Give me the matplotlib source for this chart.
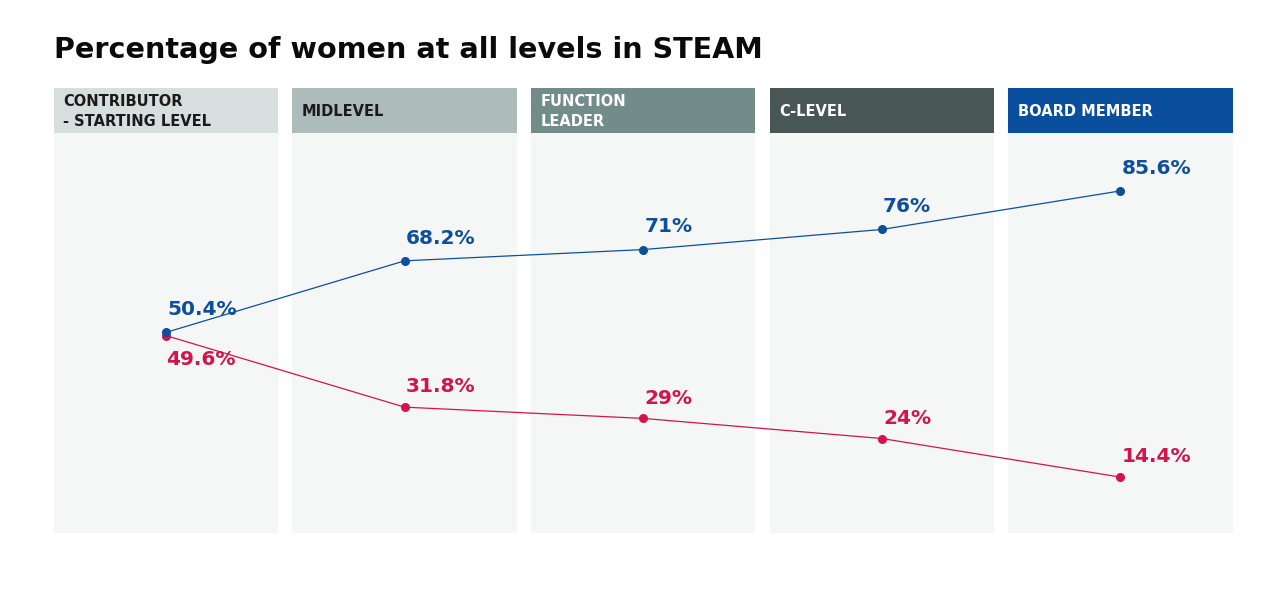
import matplotlib as mpl
mpl.use('Agg')
import matplotlib.pyplot as plt
import numpy as np

levels = ['CONTRIBUTOR\n- STARTING LEVEL', 'MIDLEVEL', 'FUNCTION\nLEADER', 'C-LEVEL', 'BOARD MEMBER']
women = [50.4, 68.2, 71, 76, 85.6]
men = [49.6, 31.8, 29, 24, 14.4]
women_labels = ['50.4%', '68.2%', '71%', '76%', '85.6%']
men_labels = ['49.6%', '31.8%', '29%', '24%', '14.4%']

header_colors = ['#d6dfdd', '#adbbba', '#728c8a', '#485755', '#0a4f9e']
header_text = ['#1a1a1a', '#1a1a1a', '#ffffff', '#ffffff', '#ffffff']
blue = '#0d4f9c'
red = '#d2144c'
panel_bg = '#f5f7f6'

plt.rcParams['font.family'] = ['DejaVu Sans']

fig = plt.figure(figsize=(12.8, 5.97), dpi=100)
ax = fig.add_axes([0.0365, 0.1039, 0.9320, 0.7487])
ax.set_xlim(-0.5, 4.5)
ax.set_ylim(0, 111.2)
ax.axis('off')

w = 0.94
x = np.arange(len(levels))
for i in x:
    ax.bar(i, 100, width=w, bottom=0.5, color=panel_bg, zorder=0)
    ax.bar(i, 11.2, width=w, bottom=100, color=header_colors[i], zorder=1)
    ax.text(i - w / 2 + 0.04, 105.4, levels[i], ha='left', va='center',
            fontsize=10.5, fontweight='bold', color=header_text[i],
            linespacing=1.45, zorder=2)

ax.plot(x, men, color=red, lw=0.9, marker='o', ms=5.5, zorder=3)
ax.plot(x, women, color=blue, lw=0.9, marker='o', ms=5.5, zorder=4)

for i in x:
    ax.text(i + 0.005, women[i] + 4.3, women_labels[i], ha='left', va='baseline',
            fontsize=14.5, fontweight='bold', color=blue)
    if i == 0:
        ax.text(i, men[i] - 7.2, men_labels[i], ha='left', va='baseline',
                fontsize=14.5, fontweight='bold', color=red)
    else:
        ax.text(i + 0.005, men[i] + 3.7, men_labels[i], ha='left', va='baseline',
                fontsize=14.5, fontweight='bold', color=red)

fig.text(54 / 1280, 1 - 58 / 597, 'Percentage of women at all levels in STEAM',
         ha='left', va='baseline', fontsize=20.6, fontweight='bold', color='#0a0a0a')

fig.savefig('out.png', dpi=100, facecolor='white')
